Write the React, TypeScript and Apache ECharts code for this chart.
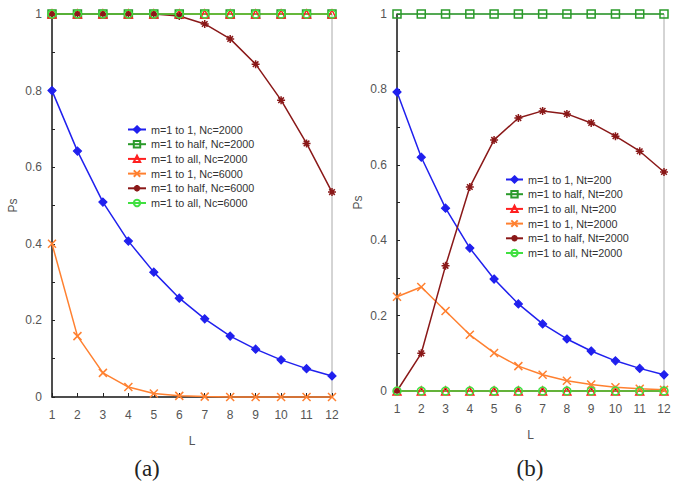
import React, { useEffect, useRef } from "react";
import * as echarts from "echarts";

const L = [1, 2, 3, 4, 5, 6, 7, 8, 9, 10, 11, 12];

// Panel (a)
const aOneNc2000 = [0.8, 0.642, 0.509, 0.407, 0.326, 0.258, 0.204, 0.159, 0.125, 0.097, 0.074, 0.055];
const aHalfNc2000 = [1, 1, 1, 1, 1, 1, 1, 1, 1, 1, 1, 1];
const aAllNc2000 = [1, 1, 1, 1, 1, 1, 1, 1, 1, 1, 1, 1];
const aOneNc6000 = [0.4, 0.159, 0.063, 0.026, 0.009, 0.003, 0.001, 0, 0, 0, 0, 0];
const aHalfNc6000 = [1, 1, 1, 1, 1, 0.995, 0.974, 0.935, 0.869, 0.775, 0.662, 0.535];
const aAllNc6000 = [1, 1, 1, 1, 1, 1, 1, 1, 1, 1, 1, 1];

// Panel (b)
const bOneNt200 = [0.793, 0.62, 0.485, 0.379, 0.297, 0.231, 0.178, 0.138, 0.106, 0.08, 0.06, 0.043];
const bHalfNt200 = [1, 1, 1, 1, 1, 1, 1, 1, 1, 1, 1, 1];
const bAllNt200 = [0, 0, 0, 0, 0, 0, 0, 0, 0, 0, 0, 0];
const bOneNt2000 = [0.25, 0.276, 0.212, 0.149, 0.101, 0.066, 0.043, 0.027, 0.017, 0.01, 0.006, 0.003];
const bHalfNt2000 = [0, 0.1, 0.332, 0.541, 0.666, 0.724, 0.743, 0.735, 0.711, 0.676, 0.636, 0.581];
const bAllNt2000 = [0, 0, 0, 0, 0, 0, 0, 0, 0, 0, 0, 0];

const namesA = [
  "m=1 to 1, Nc=2000",
  "m=1 to half, Nc=2000",
  "m=1 to all, Nc=2000",
  "m=1 to 1, Nc=6000",
  "m=1 to half, Nc=6000",
  "m=1 to all, Nc=6000",
];
const namesB = [
  "m=1 to 1, Nt=200",
  "m=1 to half, Nt=200",
  "m=1 to all, Nt=200",
  "m=1 to 1, Nt=2000",
  "m=1 to half, Nt=2000",
  "m=1 to all, Nt=2000",
];
const xTicks = L.map(String);
const yTicks = ["0", "0.2", "0.4", "0.6", "0.8", "1"];

const COLORS = ["#2020ee", "#2a9a2a", "#ff2020", "#ff8030", "#8a1818", "#40e040"];
const XPATH = "path://M0,0 L10,10 M10,0 L0,10";
const STARPATH = "path://M0,5 L10,5 M5,0 L5,10 M1.5,1.5 L8.5,8.5 M8.5,1.5 L1.5,8.5";

function styleFor(i: number) {
  const c = COLORS[i];
  const hollow = { color: "rgba(0,0,0,0)", borderColor: c, borderWidth: 1.5 };
  const base: any = {
    lineStyle: { color: c, width: 1.5 },
    itemStyle: { color: c, borderColor: c, borderWidth: 1.2 },
  };
  switch (i) {
    case 0:
      return { ...base, symbol: "diamond", symbolSize: 8 };
    case 1:
      return { ...base, symbol: "rect", symbolSize: 8, itemStyle: hollow };
    case 2:
      return { ...base, symbol: "triangle", symbolSize: 8, itemStyle: hollow };
    case 3:
      return { ...base, symbol: XPATH, symbolSize: 8, itemStyle: hollow };
    case 4:
      return { ...base, symbol: STARPATH, symbolSize: 8, itemStyle: hollow };
    default:
      return { ...base, symbol: "circle", symbolSize: 8, itemStyle: hollow };
  }
}

function makeSeries(names: string[], datas: number[][], gridIdx: number) {
  return datas.map((d, i) => ({
    type: "line",
    name: names[i],
    xAxisIndex: gridIdx,
    yAxisIndex: gridIdx,
    data: d.map((v, k) => [L[k], v]),
    showSymbol: true,
    showAllSymbol: true,
    clip: false,
    ...styleFor(i),
  }));
}

const axisLabelStyle = { color: "#555", fontSize: 12, fontFamily: "Liberation Sans, Arial, sans-serif" };

function xAxis(gridIndex: number) {
  return {
    type: "value",
    gridIndex,
    min: 1,
    max: 12,
    interval: 1,
    name: "L",
    nameLocation: "middle",
    nameGap: 38,
    nameTextStyle: { ...axisLabelStyle },
    axisLine: { show: true, onZero: false, lineStyle: { color: "#222", width: 1.5 } },
    axisTick: { show: true, inside: true, length: 4, lineStyle: { color: "#222" } },
    axisLabel: { ...axisLabelStyle, margin: 12, formatter: (v: number) => xTicks[v - 1] ?? "" },
    splitLine: { show: false },
  };
}

function yAxis(gridIndex: number) {
  return {
    type: "value",
    gridIndex,
    min: 0,
    max: 1,
    interval: 0.2,
    name: "Ps",
    nameLocation: "middle",
    nameRotate: 90,
    nameGap: 33,
    nameTextStyle: { ...axisLabelStyle },
    axisLine: { show: true, onZero: false, lineStyle: { color: "#222", width: 1.5 } },
    axisTick: { show: true, inside: true, length: 3, lineStyle: { color: "#222" } },
    minorTick: { show: true, splitNumber: 2, length: 3, lineStyle: { color: "#222" } },
    axisLabel: { ...axisLabelStyle, margin: 10, formatter: (v: number) => yTicks[Math.round(v * 5)] ?? "" },
    splitLine: { show: false },
  };
}

const legendText = { color: "#333", fontSize: 10.8, fontFamily: "Liberation Sans, Arial, sans-serif", lineHeight: 11 };

export default function App() {
  const ref = useRef<HTMLDivElement>(null);
  useEffect(() => {
    if (!ref.current) return;
    const chart = echarts.init(ref.current, undefined, { renderer: "svg" });
    chart.setOption({
      animation: false,
      backgroundColor: "#fff",
      grid: [
        { left: 52, right: 353, top: 14, bottom: 94, show: true, borderColor: "#aaa", borderWidth: 1 },
        { left: 397, right: 21, top: 14, bottom: 100, show: true, borderColor: "#aaa", borderWidth: 1 },
      ],
      xAxis: [xAxis(0), xAxis(1)],
      yAxis: [yAxis(0), yAxis(1)],
      legend: [
        {
          data: namesA,
          orient: "vertical",
          left: 127,
          top: 124,
          padding: 0,
          itemWidth: 18,
          itemHeight: 8,
          itemGap: 3.7,
          textStyle: legendText,
        },
        {
          data: namesB,
          orient: "vertical",
          left: 505,
          top: 174,
          padding: 0,
          itemWidth: 17,
          itemHeight: 8,
          itemGap: 3.7,
          textStyle: legendText,
        },
      ],
      graphic: [
        { type: "text", x: 147, y: 468, style: { text: "(a)", font: "23px 'Liberation Serif', 'Times New Roman', serif", fill: "#222", align: "center", verticalAlign: "middle" } },
        { type: "text", x: 530, y: 468, style: { text: "(b)", font: "23px 'Liberation Serif', 'Times New Roman', serif", fill: "#222", align: "center", verticalAlign: "middle" } },
      ],
      series: [
        ...makeSeries(namesA, [aOneNc2000, aHalfNc2000, aAllNc2000, aOneNc6000, aHalfNc6000, aAllNc6000], 0),
        ...makeSeries(namesB, [bOneNt200, bHalfNt200, bAllNt200, bOneNt2000, bHalfNt2000, bAllNt2000], 1),
      ],
    });
    return () => chart.dispose();
  }, []);
  return <div ref={ref} style={{ width: 685, height: 491, position: "absolute", left: 0, top: 0 }} />;
}
